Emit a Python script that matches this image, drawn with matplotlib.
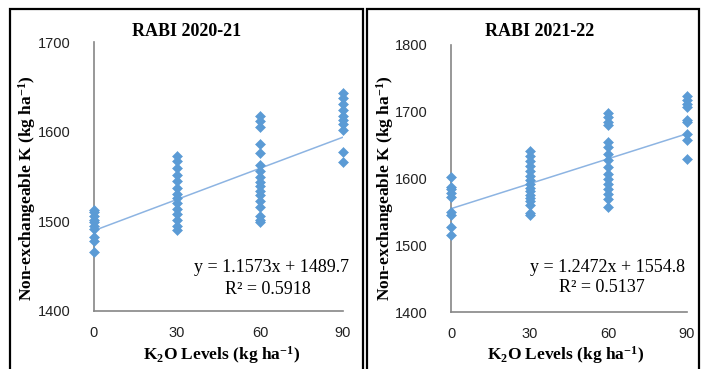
import matplotlib
matplotlib.use("Agg")
import matplotlib.pyplot as plt
from matplotlib import font_manager
from matplotlib.patches import Rectangle

# ---------------- data ----------------
levels = [0, 30, 60, 90]
x_ticks = [0, 30, 60, 90]

# RABI 2020-21
r1_k0 = [1513, 1510, 1506, 1502, 1499, 1495, 1491, 1482, 1478, 1466]
r1_k30 = [1573, 1567, 1560, 1552, 1545, 1537, 1531, 1526, 1520, 1514, 1508, 1501, 1495, 1490]
r1_k60 = [1618, 1612, 1605, 1586, 1576, 1563, 1556, 1549, 1544, 1539, 1534, 1529, 1523, 1516, 1506, 1502, 1499]
r1_k90 = [1643, 1638, 1631, 1624, 1618, 1613, 1608, 1602, 1577, 1566]
r1_slope, r1_intercept, r1_r2 = 1.1573, 1489.7, 0.5918
r1_yticks = [1400, 1500, 1600, 1700]

# RABI 2021-22
r2_k0 = [1602, 1588, 1584, 1579, 1573, 1550, 1546, 1528, 1515]
r2_k30 = [1641, 1634, 1626, 1619, 1611, 1604, 1598, 1592, 1586, 1581, 1576, 1571, 1566, 1561, 1549, 1545]
r2_k60 = [1698, 1692, 1685, 1680, 1655, 1647, 1637, 1627, 1617, 1607, 1599, 1592, 1585, 1577, 1570, 1558]
r2_k90 = [1723, 1718, 1712, 1707, 1688, 1684, 1667, 1657, 1629]
r2_slope, r2_intercept, r2_r2 = 1.2472, 1554.8, 0.5137
r2_yticks = [1400, 1500, 1600, 1700, 1800]

titles = ["RABI 2020-21", "RABI 2021-22"]
ylabel = "Non-exchangeable K (kg ha$^{-1}$)"
xlabel = "K$_2$O Levels (kg ha$^{-1}$)"

# ---------------- style ----------------
plt.rcParams['mathtext.default'] = 'regular'
SERIF = ['Liberation Serif', 'DejaVu Serif']
avail = {f.name for f in font_manager.fontManager.ttflist}
TICKF = ['Liberation Sans Narrow', 'Liberation Sans'] if 'Liberation Sans Narrow' in avail else ['Liberation Sans']
PT_COLOR = '#5B9BD5'
LINE_COLOR = '#8DB4E2'
SPINE = '#868686'

W, H = 702, 369
fig = plt.figure(figsize=(W / 100, H / 100), dpi=100)

def fx(px):
    return px / W

def fy(py):
    return 1 - py / H

# panel frames
fig.patches.append(Rectangle((fx(10), -0.02), fx(363) - fx(10), fy(9) + 0.02,
                             transform=fig.transFigure, fill=False, ec='black', lw=1.6))
fig.patches.append(Rectangle((fx(367), -0.02), fx(699) - fx(367), fy(9) + 0.02,
                             transform=fig.transFigure, fill=False, ec='black', lw=1.6))

panels = [
    dict(rect=(94, 42, 343, 311), data=[r1_k0, r1_k30, r1_k60, r1_k90],
         slope=r1_slope, icpt=r1_intercept, r2=r1_r2, yticks=r1_yticks,
         title_x=187, ylab_x=27, xlab_x=222, eq_x=271, r2_x=268, eq_y=267, r2_y=290),
    dict(rect=(451, 45, 687, 312), data=[r2_k0, r2_k30, r2_k60, r2_k90],
         slope=r2_slope, icpt=r2_intercept, r2=r2_r2, yticks=r2_yticks,
         title_x=540, ylab_x=385, xlab_x=566, eq_x=607, r2_x=602, eq_y=267, r2_y=288),
]

for i, p in enumerate(panels):
    x0, y0, x1, y1 = p['rect']
    ax = fig.add_axes([fx(x0), fy(y1), fx(x1) - fx(x0), (y1 - y0) / H])
    for lv, vals in zip(levels, p['data']):
        ax.plot([lv] * len(vals), vals, linestyle='none', marker='D', ms=5.3,
                mfc=PT_COLOR, mec=PT_COLOR, mew=0.4, zorder=3, clip_on=False)
    ax.plot([levels[0], levels[-1]],
            [p['icpt'] + p['slope'] * levels[0], p['icpt'] + p['slope'] * levels[-1]],
            color=LINE_COLOR, lw=1.1, zorder=2)
    ax.set_xlim(levels[0], levels[-1])
    ax.set_ylim(p['yticks'][0], p['yticks'][-1])
    ax.set_xticks(x_ticks)
    ax.set_yticks(p['yticks'])
    ax.tick_params(axis='both', length=0, labelsize=10.5, colors='#222222')
    ax.tick_params(axis='x', pad=11)
    ax.tick_params(axis='y', pad=17)
    for lab in ax.get_xticklabels() + ax.get_yticklabels():
        lab.set_family(TICKF)
    for s in ['top', 'right']:
        ax.spines[s].set_visible(False)
    for s in ['left', 'bottom']:
        ax.spines[s].set_color(SPINE)
        ax.spines[s].set_linewidth(1.2)
    ax.patch.set_alpha(0)

    fig.text(fx(p['title_x']), fy(32), titles[i], ha='center', va='center',
             family=SERIF, fontweight='bold', fontsize=13)
    fig.text(fx(p['ylab_x']), fy(188), ylabel, ha='center', va='center', rotation=90,
             family=SERIF, fontweight='bold', fontsize=12.5)
    fig.text(fx(p['xlab_x']), fy(355), xlabel, ha='center', va='center',
             family=SERIF, fontweight='bold', fontsize=12.5)
    fig.text(fx(p['eq_x']), fy(p['eq_y']),
             f"y = {p['slope']:.4f}x + {p['icpt']:.1f}", ha='center', va='center',
             family=SERIF, fontsize=13)
    fig.text(fx(p['r2_x']), fy(p['r2_y']), f"R² = {p['r2']:.4f}", ha='center', va='center',
             family=SERIF, fontsize=13)

fig.savefig('out.png', dpi=100, facecolor='white')
